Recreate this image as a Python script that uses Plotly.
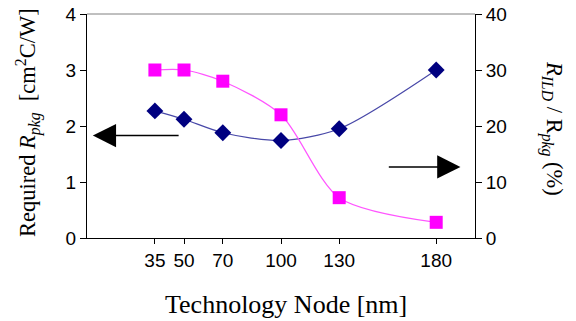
import plotly.graph_objects as go

nodes = [35, 50, 70, 100, 130, 180]
r_pkg = [2.27, 2.12, 1.88, 1.74, 1.95, 3.0]
ratio = [30, 30, 28, 22, 7.2, 2.8]
x_ticks = [35, 50, 70, 100, 130, 180]
x_tick_text = ["35", "50", "70", "100", "130", "180"]

sans = "Liberation Sans, Arial, sans-serif"
serif = "Liberation Serif, Times New Roman, serif"

fig = go.Figure()
fig.add_trace(go.Scatter(
    x=nodes, y=r_pkg, mode="lines+markers",
    line=dict(color="#4848a8", width=1.2, shape="spline", smoothing=0.8),
    marker=dict(symbol="diamond", size=13, color="#000080"),
    yaxis="y", showlegend=False))
fig.add_trace(go.Scatter(
    x=nodes, y=ratio, mode="lines+markers",
    line=dict(color="#ff55ff", width=1.2, shape="spline", smoothing=0.8),
    marker=dict(symbol="square", size=13, color="#ff00ff"),
    yaxis="y2", showlegend=False))

fig.update_layout(
    width=576, height=321,
    margin=dict(l=87, r=101, t=14, b=83, autoexpand=False),
    paper_bgcolor="white", plot_bgcolor="white",
    xaxis=dict(range=[0, 200], tickvals=x_ticks, ticktext=x_tick_text,
               ticks="outside", ticklen=5, tickcolor="black",
               showline=True, linecolor="black", linewidth=1,
               showgrid=False, zeroline=False, automargin=False,
               tickfont=dict(family=sans, size=19, color="black")),
    yaxis=dict(range=[0, 4], dtick=1, ticks="outside", ticklen=6,
               tickcolor="black", showline=True, linecolor="black",
               linewidth=1, showgrid=False, zeroline=False, automargin=False,
               tickfont=dict(family=sans, size=19, color="black")),
    yaxis2=dict(range=[0, 40], dtick=10, overlaying="y", side="right",
                ticks="outside", ticklen=6, tickcolor="black",
                showline=True, linecolor="black", linewidth=1,
                showgrid=False, zeroline=False, automargin=False,
                tickfont=dict(family=sans, size=19, color="black")),
)

fig.add_shape(type="line", xref="paper", yref="paper", x0=0, x1=1, y0=1, y1=1,
              line=dict(color="#808080", width=1))

annotations = [
    dict(x=3.0, y=1.83, ax=48, ay=1.83, xref="x", yref="y", axref="x", ayref="y",
         showarrow=True, arrowhead=2, arrowsize=3.1, arrowwidth=1.5,
         arrowcolor="black", text=""),
    dict(x=192.5, y=1.27, ax=154.8, ay=1.27, xref="x", yref="y", axref="x", ayref="y",
         showarrow=True, arrowhead=2, arrowsize=3.1, arrowwidth=1.5,
         arrowcolor="black", text=""),
    dict(x=286, y=304, text="Technology Node [nm]",
         showarrow=False, font=dict(family=serif, size=26, color="black")),
    dict(x=28, y=123, text="Required <i>R<sub>pkg</sub></i>  [cm<sup>2</sup>C/W]",
         showarrow=False, textangle=-90,
         font=dict(family=serif, size=22.5, color="black")),
    dict(x=553, y=128, text="<i>R<sub>ILD</sub></i> / R<sub><i>pkg</i></sub> (%)",
         showarrow=False, textangle=90,
         font=dict(family=serif, size=22.5, color="black")),
]
# convert pixel positions for text annotations into paper coords
W, H = 576, 321
L, R, T, B = 87, 101, 14, 83
pw, ph = W - L - R, H - T - B
for a in annotations[2:]:
    px, py = a["x"], a["y"]
    a["xref"] = "paper"
    a["yref"] = "paper"
    a["x"] = (px - L) / pw
    a["y"] = (H - B - py) / ph
    a["xanchor"] = "center"
    a["yanchor"] = "middle"
fig.update_layout(annotations=annotations)

fig.write_html("out.html", config={"displayModeBar": False},
               post_script="document.body.style.margin='0';document.body.style.overflow='hidden';")
